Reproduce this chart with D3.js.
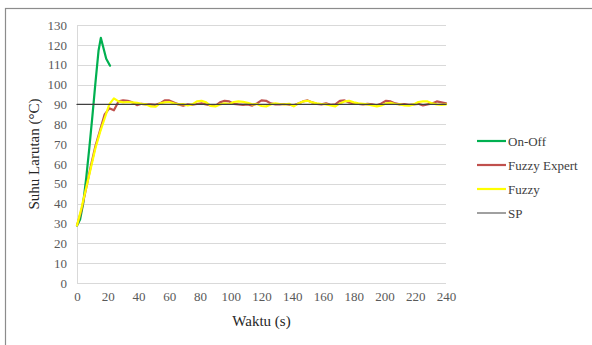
<!DOCTYPE html>
<html>
<head>
<meta charset="utf-8">
<script src="https://cdn.jsdelivr.net/npm/d3@7"></script>
<style>
  html, body { margin: 0; padding: 0; background: #fff; }
  svg { display: block; }
</style>
</head>
<body>
<div id="chart"></div>
<script>
// data
const onOffTime = [0, 2, 4, 6, 8, 10, 12, 14, 15.5, 17, 19, 21.5]
const onOff     = [29, 32, 40, 53, 68, 84, 101, 117, 123.5, 119, 113, 109.5]

const waktu = [0, 3, 6, 9, 12, 15, 18, 21, 24, 27, 30, 33, 36, 39, 42, 45, 48, 51, 54, 57,
  60, 63, 66, 69, 72, 75, 78, 81, 84, 87, 90, 93, 96, 99, 102, 105, 108, 111, 114, 117,
  120, 123, 126, 129, 132, 135, 138, 141, 144, 147, 150, 153, 156, 159, 162, 165, 168, 171, 174, 177,
  180, 183, 186, 189, 192, 195, 198, 201, 204, 207, 210, 213, 216, 219, 222, 225, 228, 231, 234, 237, 240]

const fuzzyExpert = [29, 37, 48, 59, 69, 77, 85, 88, 87, 91.5, 92, 91.8, 91, 89.6, 90.3, 90, 90, 89.8, 90.5, 92,
  92, 91, 90, 89.3, 90, 89.8, 90.2, 90.5, 90, 89.5, 89.2, 91, 91.8, 91.5, 90.3, 90, 89.8, 90, 89.4, 90.5,
  92, 91.8, 90.5, 90, 90, 90.2, 89.8, 89.5, 90.5, 91.5, 92, 91, 90.2, 90, 90.5, 89.8, 90, 91.8, 92, 91,
  90.5, 90.2, 90, 90.3, 90, 89.5, 90.5, 91.8, 91.5, 90.5, 90, 90.2, 89.8, 90, 90.3, 89.5, 90, 90.5, 91.5, 91, 90.5]

const fuzzy = [29, 38, 48, 58, 68, 76, 83, 90, 93, 91.5, 91, 91.2, 91, 90.8, 90.3, 90, 89, 88.8, 90.5, 91,
  91.2, 90.5, 90, 90.2, 89.5, 90, 91.5, 91.8, 91, 89.2, 89, 90, 90.5, 90.2, 91.2, 91.5, 91.3, 90.8, 90, 90.2,
  89.2, 89, 90, 90.5, 90.2, 90, 90.3, 89, 90.5, 91.5, 91.8, 91, 90.5, 90.2, 90, 89.5, 89, 90.5, 91.5, 91.8,
  91, 90.5, 90.3, 90, 89.5, 89, 89.5, 90.5, 90.8, 90.2, 90, 89.5, 89.3, 90, 91.2, 91.5, 91.5, 90.5, 90, 89.8, 90]

const spTime = [0, 240]
const sp     = [90, 90]

const xTicks = [0, 20, 40, 60, 80, 100, 120, 140, 160, 180, 200, 220, 240]
const yTicks = [0, 10, 20, 30, 40, 50, 60, 70, 80, 90, 100, 110, 120, 130]

const seriesNames = ["On-Off", "Fuzzy Expert", "Fuzzy", "SP"]
const seriesColors = ["#00b050", "#c0504d", "#ffff00", "#404040"]
const legendColors = ["#00b050", "#c0504d", "#ffff00", "#808080"]

const width = 592
const height = 345
const margin = { top: 25, right: 148, bottom: 62, left: 77 }
const serif = "Liberation Serif"

const svg = d3.select("#chart").append("svg")
    .attr("width", width)
    .attr("height", height)
    .attr("font-family", serif)

// outer frame
svg.append("rect")
    .attr("x", 5.5).attr("y", 8.5)
    .attr("width", 620).attr("height", 360)
    .attr("fill", "none")
    .attr("stroke", "#8c8c8c")
    .attr("stroke-width", 1.2)

const x = d3.scaleLinear().domain([0, 240]).range([margin.left, width - margin.right + 2])
const y = d3.scaleLinear().domain([0, 130]).range([height - margin.bottom, margin.top])

// grid
svg.append("g")
    .selectAll("line")
    .data(yTicks)
    .join("line")
    .attr("x1", x(0)).attr("x2", x(240))
    .attr("y1", d => Math.round(y(d)) + 0.5).attr("y2", d => Math.round(y(d)) + 0.5)
    .attr("stroke", "#d9d9d9")
    .attr("stroke-width", 1)

svg.append("line")
    .attr("x1", Math.round(x(0)) + 0.5).attr("x2", Math.round(x(0)) + 0.5)
    .attr("y1", y(0)).attr("y2", y(130))
    .attr("stroke", "#d9d9d9")

// axes (labels only)
const yAxis = svg.append("g")
    .attr("transform", `translate(${x(0) - 10},0)`)
    .call(d3.axisLeft(y).tickValues(yTicks).tickSize(0).tickPadding(0))
    .attr("font-family", serif)
    .attr("font-size", 13)
yAxis.select(".domain").remove()
yAxis.selectAll("text").attr("fill", "#595959")

const xAxis = svg.append("g")
    .attr("transform", `translate(0,${y(0) + 9})`)
    .call(d3.axisBottom(x).tickValues(xTicks).tickSize(0).tickPadding(0))
    .attr("font-family", serif)
    .attr("font-size", 13)
xAxis.select(".domain").remove()
xAxis.selectAll("text").attr("fill", "#595959")

// axis titles
svg.append("text")
    .attr("x", (x(0) + x(240)) / 2)
    .attr("y", 326)
    .attr("text-anchor", "middle")
    .attr("font-family", serif)
    .attr("font-size", 15)
    .attr("fill", "#262626")
    .text("Waktu (s)")

svg.append("text")
    .attr("transform", `translate(39,${(y(0) + y(130)) / 2}) rotate(-90)`)
    .attr("text-anchor", "middle")
    .attr("font-family", serif)
    .attr("font-size", 15)
    .attr("fill", "#262626")
    .text("Suhu Larutan (°C)")

// lines
const line = d3.line().x(d => x(d[0])).y(d => y(d[1]))
const series = [
    d3.zip(onOffTime, onOff),
    d3.zip(waktu, fuzzyExpert),
    d3.zip(waktu, fuzzy),
    d3.zip(spTime, sp)
]
const widths = [2.2, 2.2, 2.2, 1.2]

svg.append("g")
    .attr("fill", "none")
    .attr("stroke-linejoin", "round")
    .attr("stroke-linecap", "round")
    .selectAll("path")
    .data(series)
    .join("path")
    .attr("d", line)
    .attr("stroke", (d, i) => seriesColors[i])
    .attr("stroke-width", (d, i) => widths[i])

// legend
const legend = svg.append("g")
    .selectAll("g")
    .data(seriesNames)
    .join("g")
    .attr("transform", (d, i) => `translate(477,${141 + i * 24})`)

legend.append("line")
    .attr("x1", 0).attr("x2", 29)
    .attr("stroke", (d, i) => legendColors[i])
    .attr("stroke-width", (d, i) => i === 3 ? 1.5 : 2.2)

legend.append("text")
    .attr("x", 31)
    .attr("dy", "0.35em")
    .attr("font-family", serif)
    .attr("font-size", 13)
    .attr("fill", "#404040")
    .text(d => d)
</script>
</body>
</html>
